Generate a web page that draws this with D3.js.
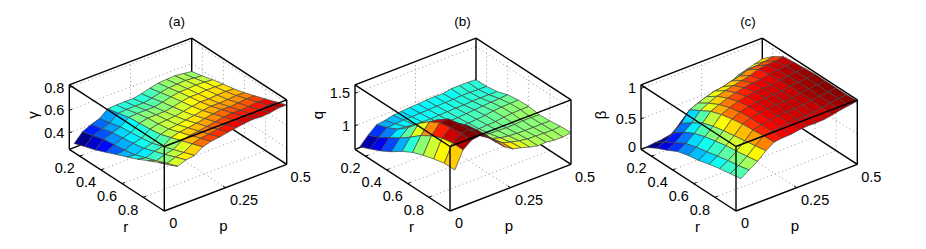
<!DOCTYPE html>
<html>
<head>
<meta charset="utf-8">
<script src="https://cdn.jsdelivr.net/npm/d3@7"></script>
<style>
  html, body { margin: 0; padding: 0; background: #fff; }
  svg { display: block; }
  text { font-family: "Liberation Sans", Arial, sans-serif; fill: #000; }
</style>
</head>
<body>
<svg id="canvas" width="926" height="249"></svg>
<script>
// Grid of the three surfaces. Each row below is one r value, columns run along p.
const rValues = [0.1, 0.2, 0.3, 0.4, 0.5, 0.6, 0.7, 0.8, 0.9, 1.0];
const pValues = [0.02, 0.054, 0.089, 0.123, 0.157, 0.191, 0.226, 0.26, 0.294, 0.329, 0.363, 0.397, 0.431, 0.466, 0.5];

const gammaValues = [
  [.29, .365, .40, .425, .483, .488, .49, .488, .503, .524, .54, .545, .55, .54, .53],
  [.323, .39, .423, .447, .504, .51, .511, .51, .525, .545, .559, .563, .568, .561, .552],
  [.354, .418, .45, .472, .528, .534, .535, .535, .549, .568, .581, .583, .588, .585, .578],
  [.394, .432, .463, .483, .537, .554, .555, .556, .569, .587, .599, .599, .605, .604, .599],
  [.435, .445, .476, .494, .546, .564, .57, .576, .589, .605, .616, .615, .621, .624, .619],
  [.474, .463, .493, .509, .56, .579, .589, .601, .614, .629, .639, .637, .642, .648, .645],
  [.515, .498, .527, .542, .592, .612, .622, .634, .647, .66, .67, .666, .672, .68, .678],
  [.562, .533, .56, .575, .624, .644, .653, .666, .679, .692, .70, .695, .701, .712, .71],
  [.606, .57, .597, .61, .658, .679, .688, .702, .714, .726, .733, .728, .734, .746, .746],
  [.645, .606, .633, .645, .692, .713, .722, .736, .748, .76, .766, .76, .766, .78, .78]
];

const qValues = [
  [.65, .78, .89, .907, .937, .948, .958, .963, .973, .978, .973, .999, .999, .999, .99],
  [.72, .85, .95, .96, .97, .97, .975, .98, .985, .99, .99, 1.0, 1.0, .995, .994],
  [.797, .95, 1.03, 1.02, 1.0, .995, .995, 1.0, 1.005, 1.01, 1.01, 1.02, 1.02, 1.02, 1.02],
  [.89, 1.05, 1.16, 1.13, 1.06, 1.02, 1.01, 1.015, 1.02, 1.03, 1.04, 1.05, 1.06, 1.065, 1.076],
  [1.0, 1.17, 1.33, 1.29, 1.21, 1.10, 1.04, 1.035, 1.04, 1.05, 1.06, 1.08, 1.09, 1.095, 1.10],
  [1.09, 1.30, 1.46, 1.44, 1.33, 1.21, 1.12, 1.07, 1.06, 1.065, 1.07, 1.09, 1.10, 1.105, 1.107],
  [1.15, 1.40, 1.55, 1.56, 1.45, 1.32, 1.20, 1.11, 1.09, 1.085, 1.08, 1.085, 1.09, 1.09, 1.085],
  [1.20, 1.47, 1.58, 1.60, 1.52, 1.40, 1.27, 1.17, 1.13, 1.11, 1.10, 1.095, 1.095, 1.095, 1.096],
  [1.24, 1.50, 1.60, 1.61, 1.55, 1.43, 1.30, 1.21, 1.17, 1.14, 1.12, 1.115, 1.11, 1.105, 1.117],
  [1.24, 1.50, 1.60, 1.62, 1.54, 1.42, 1.30, 1.22, 1.19, 1.15, 1.12, 1.127, 1.11, 1.107, 1.127]
];

const betaValues = [
  [0, .02, .03, .05, .17, .24, .31, .38, .43, .48, .52, .60, .64, .68, .72],
  [.10, .15, .24, .35, .52, .58, .63, .67, .69, .73, .76, .81, .82, .84, .87],
  [.18, .25, .37, .47, .62, .69, .75, .79, .82, .85, .88, .93, .95, .96, .98],
  [.27, .35, .46, .58, .72, .78, .83, .87, .90, .92, .93, .96, .98, .99, 1.0],
  [.32, .40, .52, .64, .78, .84, .89, .92, .94, .945, .95, .98, .99, 1.005, 1.017],
  [.35, .44, .56, .68, .82, .88, .92, .94, .95, .955, .96, .99, 1.0, 1.015, 1.03],
  [.40, .48, .60, .71, .85, .895, .925, .945, .955, .96, .965, .995, 1.01, 1.02, 1.03],
  [.44, .52, .62, .74, .865, .90, .92, .94, .95, .95, .96, .985, 1.005, 1.02, 1.03],
  [.47, .55, .65, .77, .88, .905, .915, .935, .945, .945, .95, .98, 1.0, 1.02, 1.03],
  [.50, .59, .68, .80, .89, .907, .912, .934, .945, .94, .945, .97, 1.0, 1.02, 1.04]
];

const rTicks = [0.2, 0.4, 0.6, 0.8];
const pTicks = [0, 0.25, 0.5];
const gammaTicks = [0.4, 0.6, 0.8];
const qTicks = [1, 1.5];
const betaTicks = [0, 0.5, 1];

const panels = [
  { title: "(a)", zName: "\u03b3", values: gammaValues, zTicks: gammaTicks, zDomain: [0.255, 0.825], colorDomain: [0.29, 0.77], left: 69.3, pWidth: 122.4, zNameX: 32.5, titleX: 176.7 },
  { title: "(b)", zName: "q", values: qValues, zTicks: qTicks, zDomain: [0.64, 1.63], colorDomain: [0.62, 1.54], left: 355, pWidth: 121, zNameX: 317.3, titleX: 462.5 },
  { title: "(c)", zName: "\u03b2", values: betaValues, zTicks: betaTicks, zDomain: [0, 1.06], colorDomain: [0, 1.03], left: 641, pWidth: 121.3, zNameX: 600, titleX: 748 }
];

const svg = d3.select("#canvas");

// MATLAB jet colormap
const jet = d3.scaleLinear()
  .domain([0, 0.125, 0.375, 0.625, 0.875, 1])
  .range(["#00008f", "#0000ff", "#00ffff", "#ffff00", "#ff0000", "#800000"])
  .clamp(true);

function drawPanel(panel) {
  const g = svg.append("g");
  const floorY = 149.3;

  // oblique projection, built from one scale per screen direction
  const rX = d3.scaleLinear().domain([0.1, 1]).range([0, 95]);
  const rY = d3.scaleLinear().domain([0.1, 1]).range([0, 61.7]);
  const pX = d3.scaleLinear().domain([0, 0.5]).range([0, panel.pWidth]);
  const pY = d3.scaleLinear().domain([0, 0.5]).range([0, -46.7]);
  const zY = d3.scaleLinear().domain(panel.zDomain).range([0, -64.5]);
  const color = d3.scaleLinear().domain(panel.colorDomain).range([0, 1]);

  const project = (r, p, z) => [
    panel.left + rX(r) + pX(p),
    floorY + rY(r) + pY(p) + zY(z)
  ];
  const [rMin, rMax] = rX.domain();
  const [pMin, pMax] = pX.domain();
  const [zMin, zMax] = zY.domain();

  const line3 = (a, b) => "M" + project(...a) + "L" + project(...b);
  const addLines = (segments, stroke, width, dash) => {
    g.append("g").selectAll("path")
      .data(segments)
      .join("path")
      .attr("d", d => line3(d[0], d[1]))
      .attr("fill", "none")
      .attr("stroke", stroke)
      .attr("stroke-width", width)
      .attr("stroke-dasharray", dash);
  };

  // dotted grid on the floor and the two back walls
  const grid = [];
  rTicks.forEach(r => {
    grid.push([[r, pMin, zMin], [r, pMax, zMin]]);
    grid.push([[r, pMax, zMin], [r, pMax, zMax]]);
  });
  [0.25].forEach(p => {
    grid.push([[rMin, p, zMin], [rMax, p, zMin]]);
    grid.push([[rMin, p, zMin], [rMin, p, zMax]]);
  });
  panel.zTicks.forEach(z => {
    grid.push([[rMin, pMin, z], [rMin, pMax, z]]);
    grid.push([[rMin, pMax, z], [rMax, pMax, z]]);
  });
  addLines(grid, "#8a8a8a", 0.9, "1 3");

  // box edges behind the surface
  addLines([
    [[rMin, pMin, zMin], [rMin, pMax, zMin]],
    [[rMin, pMax, zMin], [rMax, pMax, zMin]],
    [[rMin, pMax, zMin], [rMin, pMax, zMax]],
    [[rMin, pMin, zMax], [rMin, pMax, zMax]],
    [[rMin, pMax, zMax], [rMax, pMax, zMax]]
  ], "#000", 1.4);

  // surface cells, back to front; colour comes from the first corner
  const cells = [];
  for (let j = pValues.length - 2; j >= 0; j--) {
    for (let i = 0; i < rValues.length - 1; i++) {
      cells.push({ i, j });
    }
  }
  const vertex = (i, j) => project(rValues[i], pValues[j], panel.values[i][j]);
  g.append("g").selectAll("path")
    .data(cells)
    .join("path")
    .attr("d", d => "M" + vertex(d.i, d.j) + "L" + vertex(d.i + 1, d.j) + "L" + vertex(d.i + 1, d.j + 1) + "L" + vertex(d.i, d.j + 1) + "Z")
    .attr("fill", d => jet(color(panel.values[d.i][d.j])))
    .attr("stroke", "#444")
    .attr("stroke-width", 0.7)
    .attr("stroke-linejoin", "round");

  // box edges in front of the surface
  addLines([
    [[rMin, pMin, zMin], [rMax, pMin, zMin]],
    [[rMax, pMin, zMin], [rMax, pMax, zMin]],
    [[rMin, pMin, zMin], [rMin, pMin, zMax]],
    [[rMax, pMin, zMin], [rMax, pMin, zMax]],
    [[rMax, pMax, zMin], [rMax, pMax, zMax]],
    [[rMin, pMin, zMax], [rMax, pMin, zMax]],
    [[rMax, pMin, zMax], [rMax, pMax, zMax]]
  ], "#000", 1.4);

  // tick marks
  const ticks = [];
  rTicks.forEach(r => ticks.push([[r, pMin, zMin], [r, pMin + 0.012, zMin]]));
  pTicks.forEach(p => ticks.push([[rMax, p, zMin], [rMax - 0.025, p, zMin]]));
  panel.zTicks.forEach(z => ticks.push([[rMin, pMin, z], [rMin, pMin + 0.012, z]]));
  addLines(ticks, "#000", 1);

  // tick labels
  const label = (x, y, text, size, anchor) => g.append("text")
    .attr("x", x)
    .attr("y", y)
    .attr("font-size", size)
    .attr("text-anchor", anchor || "middle")
    .attr("dominant-baseline", "central")
    .text(text);

  rTicks.forEach(r => {
    const [x, y] = project(r, pMin, zMin);
    label(x - 15, y + 12.3, d3.format(".1f")(r), 14.5);
  });
  const pOffsets = [9, 18.5, 14];
  pTicks.forEach((p, k) => {
    const [x, y] = project(rMax, p, zMin);
    label(x + pOffsets[k], y + 12.3, String(p), 14.5);
  });
  panel.zTicks.forEach(z => {
    const [x, y] = project(rMin, pMin, z);
    // the lowest label sits a little above the box corner
    label(x - 5, z === zMin ? y - 2.5 : y, String(z), 14.5, "end");
  });

  // axis names and title
  const [frontX] = project(rMax, pMin, zMin);
  label(frontX - 38.5, 226.7, "r", 15);
  label(frontX + 59, 225, "p", 15);
  g.append("text")
    .attr("transform", `translate(${panel.zNameX},115) rotate(-90)`)
    .attr("font-size", 15)
    .attr("text-anchor", "middle")
    .attr("dominant-baseline", "central")
    .text(panel.zName);
  label(panel.titleX, 21.5, panel.title, 13.5);
}

panels.forEach(drawPanel);
</script>
</body>
</html>
